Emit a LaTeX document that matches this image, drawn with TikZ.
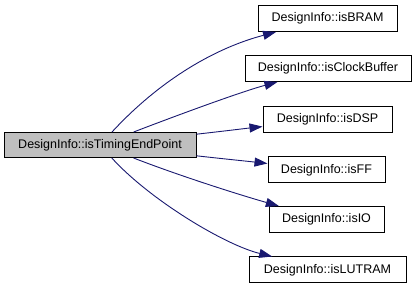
\documentclass[tikz,border=0pt]{standalone}
\usepackage{fontspec}
\setmainfont{Liberation Sans}
\usetikzlibrary{arrows.meta}
\definecolor{edgeblue}{HTML}{191970}
\definecolor{callerfill}{HTML}{BFBFBF}
\begin{document}
\begin{tikzpicture}[x=1pt,y=-1pt,
  fn/.style={draw=black,line width=1pt,fill=white,inner sep=0pt,
    minimum height=26pt,font=\fontsize{12.5}{15}\selectfont},
  caller/.style={fn,fill=callerfill,minimum height=25pt},
  call/.style={draw=edgeblue,line width=0.9pt,
    -{Triangle[length=13pt,width=9pt]},fill=none}]
\useasboundingbox (0,0) rectangle (416,291);

% called function and its callees
\node[caller,minimum width=192pt] (main) at (100,145) {DesignInfo::isTimingEndPoint};
\node[fn,minimum width=139pt] (bram)   at (327.5,18.5) {DesignInfo::isBRAM};
\node[fn,minimum width=166pt] (clk)    at (328,68.5)   {DesignInfo::isClockBuffer};
\node[fn,minimum width=129pt] (dsp)    at (327.5,119.5){DesignInfo::isDSP};
\node[fn,minimum width=117pt] (ff)     at (326.5,170)  {DesignInfo::isFF};
\node[fn,minimum width=115pt] (io)     at (326.5,219.5){DesignInfo::isIO};
\node[fn,minimum width=157pt] (lutram) at (327.5,270)  {DesignInfo::isLUTRAM};

% call edges
\draw[call] (main) .. controls (160,80)  and (215,48)   .. (bram);
\draw[call] (main) .. controls (170,118) and (240,92)   .. (clk);
\draw[call] (main) .. controls (225,131) and (245,128.5) .. (dsp);
\draw[call] (main) .. controls (225,159) and (245,161)  .. (ff);
\draw[call] (main) .. controls (180,176) and (240,195)  .. (io);
\draw[call] (main) .. controls (150,200) and (225,245)  .. (lutram);
\end{tikzpicture}
\end{document}
